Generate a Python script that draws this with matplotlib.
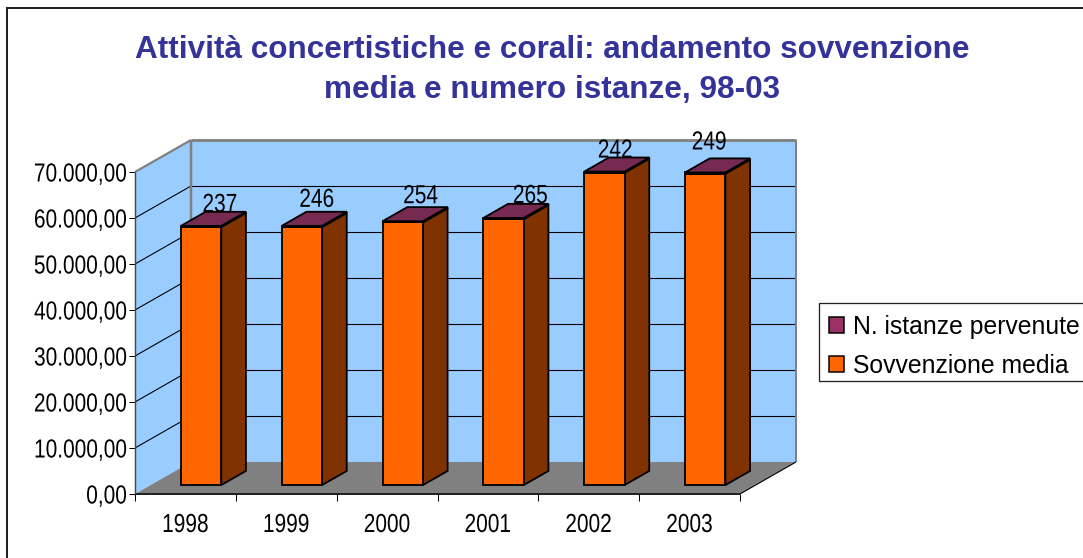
import matplotlib
matplotlib.use("Agg")
import matplotlib.pyplot as plt
from matplotlib.patches import Polygon, Rectangle
from matplotlib.lines import Line2D
from matplotlib.patheffects import AbstractPathEffect
from matplotlib.transforms import Affine2D

# ---- data ----
years = ["1998", "1999", "2000", "2001", "2002", "2003"]
sovvenzione = [56100, 56100, 57100, 57800, 67900, 67700]
istanze = [237, 246, 254, 265, 242, 249]
y_ticks = [0, 10000, 20000, 30000, 40000, 50000, 60000, 70000]
y_tick_labels = ["0,00", "10.000,00", "20.000,00", "30.000,00", "40.000,00",
                 "50.000,00", "60.000,00", "70.000,00"]
title = "Attività concertistiche e corali: andamento sovvenzione\nmedia e numero istanze, 98-03"
legend_labels = ["N. istanze pervenute", "Sovvenzione media"]

# ---- style ----
W, H = 1083, 558
WALL = "#99CCFF"; FLOOR = "#808080"; EDGE = "#808080"
ORANGE = "#FF6600"; ORANGE_SIDE = "#803300"
PURPLE = "#993366"; PURPLE_TOP = "#772A50"; TITLE = "#333399"
ARIAL = ["Liberation Sans"]
px = 72 / 100


class Squeeze(AbstractPathEffect):
    """Narrow a text horizontally (stands in for Arial Narrow), keeping its alignment."""

    def __init__(self, sx, align):
        self.sx = sx
        self.frac = {"left": 0.0, "center": 0.5, "right": 1.0}[align]

    def draw_path(self, renderer, gc, tpath, affine, rgbFace=None):
        shift = (1 - self.sx) * tpath.get_extents().x1 * self.frac
        renderer.draw_path(gc, tpath, Affine2D().scale(self.sx, 1).translate(shift, 0) + affine, rgbFace)


SX = 0.80
NARROW_SIZE = 18.8

fig = plt.figure(figsize=(W / 100, H / 100), dpi=100, facecolor="white")
AX_L, AX_R, AX_T, AX_B = 135, 740, 172, 494
ax = fig.add_axes([AX_L / W, (H - AX_B) / H, (AX_R - AX_L) / W, (AX_B - AX_T) / H])
ax.set_xlim(0, len(years))
ax.set_ylim(0, 70000)
ax.patch.set_visible(False)
for s in ax.spines.values():
    s.set_visible(False)

DX, DY = 56, 32  # depth offset in pixels
ux = (AX_R - AX_L) / len(years)
uy = (AX_B - AX_T) / 70000


def P(x, y, d=0.0):
    """project (category x, value y, depth d) to the front plane's data coords"""
    return (x + d * DX / ux, y + d * DY / uy)


def face(pts, fc, ec="none", lw=0.0, z=1):
    ax.add_patch(Polygon([P(*p) for p in pts], closed=True, facecolor=fc, edgecolor=ec,
                         linewidth=lw, zorder=z, clip_on=False, joinstyle="miter"))


def seg(a, b, color="black", lw=1.0 * px, z=2):
    pa, pb = P(*a), P(*b)
    ax.add_line(Line2D([pa[0], pb[0]], [pa[1], pb[1]], color=color, lw=lw, zorder=z,
                       clip_on=False, solid_capstyle="butt"))


n = len(years)
top = 70000
# walls and floor
face([(0, 0, 0), (0, top, 0), (0, top, 1), (0, 0, 1)], WALL, z=1)
face([(0, 0, 1), (0, top, 1), (n, top, 1), (n, 0, 1)], WALL, z=1)
face([(0, 0, 0), (n, 0, 0), (n, 0, 1), (0, 0, 1)], FLOOR, z=1.5)
# gridlines
for t in y_ticks[1:-1]:
    seg((0, t, 0), (0, t, 1), lw=1.1 * px)
    seg((0, t, 1), (n, t, 1), lw=1.1 * px)
# wall borders
seg((0, top, 0), (0, top, 1), EDGE, 2.2 * px)
seg((0, top, 1), (n, top, 1), EDGE, 2.8 * px)
seg((0, 0, 1), (0, top, 1), EDGE, 2.5 * px)
seg((n, 0, 1), (n, top, 1), EDGE, 2 * px)
seg((n, 0, 0), (n, 0, 1), "black", 1.1 * px, z=2)

# bars
BW, D0, D1 = 0.40, 0.28, 0.72
blw = 1.8 * px
for i, (v, m) in enumerate(zip(sovvenzione, istanze)):
    c = i + 0.5
    x0, x1 = c - BW / 2, c + BW / 2
    zz = 3 + i * 0.01
    for lo, hi, front, side in ((0, v, ORANGE, ORANGE_SIDE), (v, v + m, PURPLE, PURPLE_TOP)):
        face([(x1, lo, D0), (x1, hi, D0), (x1, hi, D1), (x1, lo, D1)], side, "black", blw, zz)
        face([(x0, lo, D0), (x1, lo, D0), (x1, hi, D0), (x0, hi, D0)], front, "black", blw, zz)
    face([(x0, v + m, D0), (x1, v + m, D0), (x1, v + m, D1), (x0, v + m, D1)],
         PURPLE_TOP, "black", blw, zz)

# data labels (pixel nudges from each bar's front top edge)
label_offsets = [(19, 17), (15, 22), (18, 21), (27, 18), (11, 17), (4, 26)]
for i, (v, m) in enumerate(zip(sovvenzione, istanze)):
    t = ax.annotate(str(m), xy=P(i + 0.5, v + m, D0),
                    xytext=(label_offsets[i][0] * px, (label_offsets[i][1] - 8) * px),
                    textcoords="offset points", ha="center", va="bottom", fontsize=NARROW_SIZE,
                    family=ARIAL, color="black", zorder=6, annotation_clip=False)
    t.set_path_effects([Squeeze(SX, "center")])

# front axes
ax.set_xticks(range(n + 1))
ax.set_xticklabels([])
ax.set_yticks(y_ticks)
for lab in ax.set_yticklabels(y_tick_labels, family=ARIAL, fontsize=NARROW_SIZE, color="black"):
    lab.set_path_effects([Squeeze(SX, "right")])
ax.tick_params(axis="y", length=6 * px, width=1 * px, pad=2 * px, color="black")
ax.tick_params(axis="x", length=7 * px, width=1 * px, color="black")
for i, y in enumerate(years):
    t = ax.annotate(y, xy=(i + 0.5, 0), xytext=(0, -31 * px), textcoords="offset points",
                    ha="center", va="center", fontsize=NARROW_SIZE, family=ARIAL, annotation_clip=False)
    t.set_path_effects([Squeeze(SX, "center")])
seg((0, 0, 0), (n, 0, 0), "#222222", 2 * px, z=2.5)
seg((0, 0, 0), (0, top, 0), "#444444", 1.4 * px, z=2.5)

# title
fig.text(552 / W, 1 - 70 / H, title, ha="center", va="center", fontsize=22.7, fontweight="bold",
         family=ARIAL, color=TITLE, linespacing=1.46)

# legend: frame drawn apart, since the original's rows sit off-centre in the box
fig.add_artist(Rectangle((819 / W, 1 - 381 / H), (W + 20 - 819) / W, 78 / H, transform=fig.transFigure,
                         facecolor="white", edgecolor="#222222", linewidth=1.3 * px, zorder=2))
handles = [Rectangle((0, 0), 1, 1, facecolor=PURPLE, edgecolor="black", linewidth=1.5 * px),
           Rectangle((0, 0), 1, 1, facecolor=ORANGE, edgecolor="black", linewidth=1.5 * px)]
leg = fig.legend(handles, legend_labels, loc="upper left",
                 bbox_to_anchor=(829 / W, 1 - 315 / H), prop={"family": ARIAL, "size": 17.8},
                 frameon=False, handlelength=0.6, handleheight=0.6, handletextpad=0.37,
                 labelspacing=0.6, borderpad=0, borderaxespad=0)
leg.set_zorder(3)

# chart-area frame (runs past the right and bottom edges of the picture)
fig.add_artist(Rectangle((7 / W, -20 / H), (W + 20) / W, (H + 20 - 8) / H, transform=fig.transFigure,
                         facecolor="none", edgecolor="#222222", linewidth=2 * px))

fig.savefig("out.png", dpi=100, facecolor="white")
